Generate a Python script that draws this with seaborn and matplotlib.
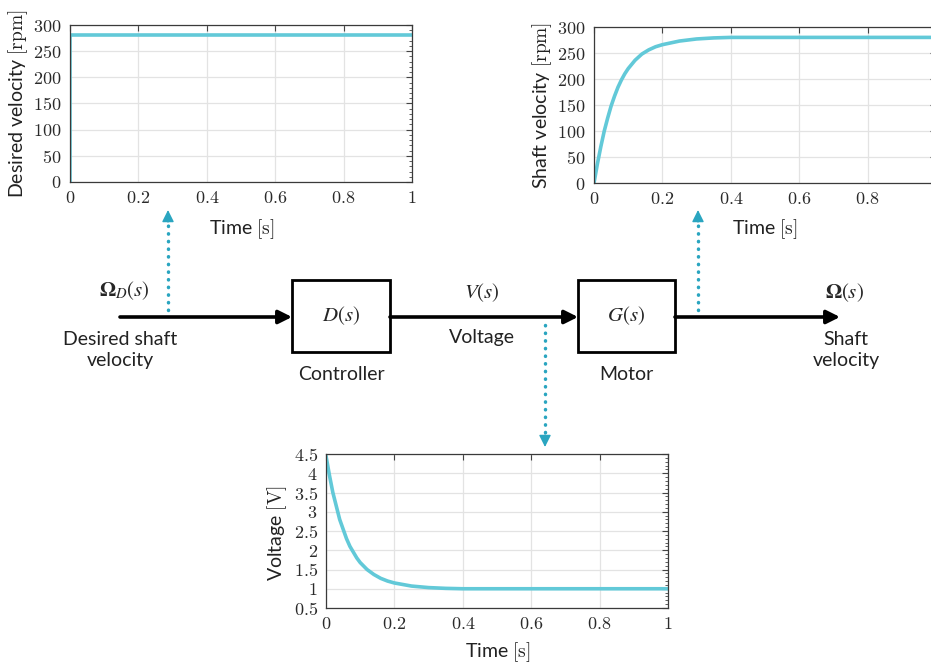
import numpy as np
import pandas as pd
import seaborn as sns
import matplotlib.pyplot as plt
from matplotlib.patches import Rectangle
from matplotlib.ticker import FuncFormatter, MultipleLocator, AutoMinorLocator

# values
t_desired = [0.0, 0.0, 1.0]
desired_rpm = [0, 280, 280]

t_shaft = [0.0, 0.01, 0.02, 0.03, 0.04, 0.05, 0.06, 0.07, 0.08, 0.09, 0.10,
           0.12, 0.14, 0.16, 0.18, 0.20, 0.25, 0.30, 0.35, 0.40, 0.50, 0.60,
           0.70, 0.80, 0.90, 1.00]
shaft_rpm = [0, 37, 70, 100, 125, 148, 167, 184, 198, 210, 220,
             236, 248, 256, 262, 266, 273, 277, 279, 280, 280, 280,
             280, 280, 280, 280]

t_volt = [0.0, 0.01, 0.02, 0.03, 0.04, 0.05, 0.06, 0.07, 0.08, 0.09, 0.10,
          0.12, 0.14, 0.16, 0.18, 0.20, 0.25, 0.30, 0.35, 0.40, 0.50, 0.60,
          0.70, 0.80, 0.90, 1.00]
voltage = [4.45, 3.95, 3.50, 3.15, 2.80, 2.55, 2.30, 2.10, 1.95, 1.80, 1.68,
           1.50, 1.37, 1.27, 1.20, 1.15, 1.07, 1.03, 1.01, 1.00, 1.00, 1.00,
           1.00, 1.00, 1.00, 1.00]

sns.set_style('white')
plt.rcParams['font.family'] = ['Lato', 'DejaVu Sans']
plt.rcParams['mathtext.fontset'] = 'cm'

W, H = 931, 666
fig = plt.figure(figsize=(W / 100, H / 100), dpi=100)

line_color = '#62c9d8'
arrow_color = '#2aa5c0'


def px_axes(left, top, right, bottom):
    return fig.add_axes([left / W, 1 - bottom / H, (right - left) / W, (bottom - top) / H])


def style_axes(ax, ylim, ystep, ylabel, xlab_pos, ylab_pos, xmax_label=1.0):
    ax.set_xlim(0, 1)
    ax.set_ylim(*ylim)
    ax.xaxis.set_major_locator(MultipleLocator(0.2))
    ax.yaxis.set_major_locator(MultipleLocator(ystep))
    ax.yaxis.set_minor_locator(AutoMinorLocator(5))
    ax.xaxis.set_major_formatter(
        FuncFormatter(lambda v, _: f'${v:g}$' if v <= xmax_label + 1e-9 else ''))
    ax.yaxis.set_major_formatter(FuncFormatter(lambda v, _: f'${v:g}$'))
    ax.tick_params(which='both', direction='in', top=True, right=True,
                   labelsize=13, color='#444444', labelcolor='#2a2a2a')
    ax.tick_params(which='major', length=4, pad=6)
    ax.tick_params(which='minor', length=2)
    ax.grid(True, which='major', color='#e3e3e3', lw=0.9)
    for s in ax.spines.values():
        s.set_color('#3a3a3a')
        s.set_linewidth(0.9)
    ax.set_xlabel(r'Time $[\mathrm{s}]$', fontsize=14, color='#222222')
    ax.set_ylabel(ylabel, fontsize=14, color='#222222')
    ax.xaxis.set_label_coords(*xlab_pos)
    ax.xaxis.label.set_va('center')
    ax.yaxis.set_label_coords(*ylab_pos)
    ax.yaxis.label.set_va('center')


# desired velocity
ax1 = px_axes(70, 25, 412, 182)
sns.lineplot(x=t_desired, y=desired_rpm, ax=ax1, color=line_color, lw=2.6,
             estimator=None, sort=False)
style_axes(ax1, (0, 300), 50, r'Desired velocity $[\mathrm{rpm}]$',
           (0.503, -0.30), (-0.152, 0.5))

# shaft velocity (axes runs past the right edge of the picture)
ax2 = px_axes(594, 27, 936, 183)
sns.lineplot(x=t_shaft, y=shaft_rpm, ax=ax2, color=line_color, lw=2.6,
             estimator=None, sort=False)
style_axes(ax2, (0, 300), 50, r'Shaft velocity $[\mathrm{rpm}]$',
           (0.5, -0.295), (-0.152, 0.5), xmax_label=0.8)

# voltage
ax3 = px_axes(326, 454, 668, 608)
sns.lineplot(x=t_volt, y=voltage, ax=ax3, color=line_color, lw=2.6,
             estimator=None, sort=False)
style_axes(ax3, (0.5, 4.5), 0.5, r'Voltage $[\mathrm{V}]$',
           (0.503, -0.286), (-0.143, 0.49))

# block diagram overlay in pixel coordinates
ov = fig.add_axes([0, 0, 1, 1], zorder=5)
ov.set_xlim(0, W)
ov.set_ylim(H, 0)
ov.axis('off')
ov.patch.set_alpha(0)

main_y = 317
arrow_kw = dict(arrowstyle='-|>', lw=2.6, color='black', mutation_scale=20,
                shrinkA=0, shrinkB=0)
for x0, x1 in [(120, 292), (390, 578), (675, 840)]:
    ov.annotate('', xy=(x1, main_y), xytext=(x0, main_y), arrowprops=arrow_kw)

math_kw = dict(fontsize=15, ha='center', va='center', math_fontfamily='stix')
for (l, r), name, sub in [((292, 390), r'$D(s)$', 'Controller'),
                          ((578, 675), r'$G(s)$', 'Motor')]:
    ov.add_patch(Rectangle((l, 280), r - l, 72, fill=False, lw=2, ec='black', zorder=3))
    ov.text((l + r) / 2, 316, name, **math_kw)
    ov.text((l + r) / 2, 374, sub, fontsize=14, ha='center', va='center', color='#222222')

ov.text(124, 291, r'$\mathbf{\Omega}_D(s)$', **math_kw)
ov.text(482, 293, r'$V(s)$', **math_kw)
ov.text(844, 293, r'$\mathbf{\Omega}(s)$', **math_kw)
ov.text(120, 350, 'Desired shaft\nvelocity', fontsize=14, ha='center', va='center',
        linespacing=1.35, color='#222222')
ov.text(482, 338, 'Voltage', fontsize=14, ha='center', va='center', color='#222222')
ov.text(846, 350, 'Shaft\nvelocity', fontsize=14, ha='center', va='center',
        linespacing=1.35, color='#222222')

head_kw = dict(arrowstyle='-|>', lw=1, color=arrow_color, mutation_scale=18,
               shrinkA=0, shrinkB=0)
for x, y_from, y_tip in [(168, 310, 210), (698, 310, 210), (545, 325, 447)]:
    d = 1 if y_tip > y_from else -1
    ov.plot([x, x], [y_from, y_tip - d * 12], ls=(0, (0.1, 2.1)), lw=2.5,
            color=arrow_color, dash_capstyle='round')
    ov.annotate('', xy=(x, y_tip), xytext=(x, y_tip - d * 12), arrowprops=head_kw)

fig.savefig('out.png', dpi=100)
